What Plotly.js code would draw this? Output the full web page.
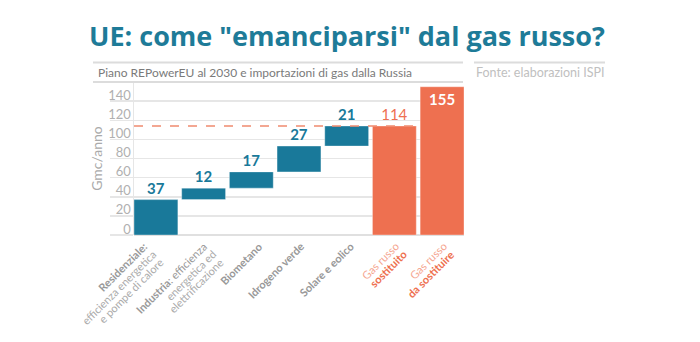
<!DOCTYPE html>
<html>
<head>
<meta charset="utf-8">
<script src="https://cdn.plot.ly/plotly-3.0.1.min.js"></script>
<style>html,body{margin:0;padding:0;background:#fff;}#chart{width:700px;height:342px;}</style>
</head>
<body>
<div id="chart"></div>
<script>
// ---- data ----
var categories = ["Residenziale", "Industria", "Biometano", "Idrogeno verde", "Solare e eolico", "Gas russo sostituito", "Gas russo da sostituire"];
var blueValues = [37, 12, 17, 27, 21];        // contributions REPowerEU (Gmc/anno)
var replacedGas = 114;                          // gas russo sostituito
var toReplaceGas = 155;                         // gas russo da sostituire
var yTicks = [0, 20, 40, 60, 80, 100, 120, 140];
var labelLines = [
  ["<b>Residenziale:</b>", "efficienza energetica", "e pompe di calore"],
  ["<b>Industria</b>: efficienza", "energetica ed", "elettrificazione"],
  ["<b>Biometano</b>"],
  ["<b>Idrogeno verde</b>"],
  ["<b>Solare e eolico</b>"],
  ["Gas russo", "<b>sostituito</b>"],
  ["Gas russo", "<b>da sostituire</b>"]
];

var TEAL = "#19799a", ORANGE = "#ee7050";
var FONT = "Lato, 'Open Sans', sans-serif";

// cumulative bases for the waterfall
var bases = [];
var acc = 0;
blueValues.forEach(function (v) { bases.push(acc); acc += v; });

var traces = [
  {
    type: "bar",
    x: categories.slice(0, 5),
    y: blueValues,
    base: bases,
    marker: { color: TEAL, line: { color: "rgba(255,255,255,0.35)", width: 1 } },
    text: blueValues.map(String),
    textposition: "outside",
    cliponaxis: false,
    textfont: { family: FONT, size: 15, color: TEAL, weight: "bold" },
    hoverinfo: "skip"
  },
  {
    type: "bar",
    x: [categories[5]],
    y: [replacedGas],
    marker: { color: ORANGE, line: { color: "rgba(255,255,255,0.35)", width: 1 } },
    text: [String(replacedGas)],
    textposition: "outside",
    cliponaxis: false,
    textfont: { family: FONT, size: 15, color: ORANGE },
    hoverinfo: "skip"
  },
  {
    type: "bar",
    x: [categories[6]],
    y: [toReplaceGas],
    marker: { color: ORANGE, line: { color: "rgba(255,255,255,0.35)", width: 1 } },
    text: [String(toReplaceGas)],
    textposition: "inside",
    insidetextanchor: "end",
    textfont: { family: FONT, size: 15, color: "#ffffff", weight: "bold" },
    hoverinfo: "skip"
  }
];

var L = 134, R = 464, T = 82, B = 235, W = 700, H = 342;
function px(x) { return (x - L) / (R - L); }
function py(y) { return (B - y) / (B - T); }

var annotations = [
  { xref: "paper", yref: "paper", x: px(96), y: py(72), xanchor: "left", yanchor: "middle", showarrow: false,
    text: "Piano REPowerEU al 2030 e importazioni di gas dalla Russia", font: { family: FONT, size: 12, color: "#7a7a7a" } },
  { xref: "paper", yref: "paper", x: px(474), y: py(72), xanchor: "left", yanchor: "middle", showarrow: false,
    text: "Fonte: elaborazioni ISPI", font: { family: FONT, size: 12.5, color: "#c0c0c0" } }
];

// rotated category labels, one annotation per line (tight line spacing)
var endShiftX = [-10, 2, 9, 3, 5, 3, 3];   // horizontal nudge of first-line end (px)
var LINE_STEP = 7.8, ROT_PAD = 5.7, DROP = 9;
labelLines.forEach(function (lines, i) {
  lines.forEach(function (t, k) {
    var orange = i >= 5;
    var bold = t.indexOf("<b>") === 0;
    var color = orange ? (bold ? ORANGE : "#f5a58f") : (bold ? "#999999" : "#ababab");
    annotations.push({
      xref: "x", yref: "paper", x: categories[i], y: 0,
      xanchor: "right", yanchor: "top", showarrow: false,
      textangle: -45,
      text: t,
      font: { family: FONT, size: 11, color: color },
      borderpad: 0,
      xshift: endShiftX[i] + k * LINE_STEP + ROT_PAD,
      yshift: -(DROP + k * LINE_STEP - ROT_PAD)
    });
  });
});

var layout = {
  width: W, height: H,
  margin: { l: L, r: W - R, t: T, b: H - B },
  paper_bgcolor: "#ffffff",
  plot_bgcolor: "#ffffff",
  showlegend: false,
  barmode: "overlay",
  bargap: 0.08,
  font: { family: FONT, color: "#999" },
  title: {
    text: "UE: come \"emanciparsi\" dal gas russo?",
    font: { family: "'Open Sans', sans-serif", size: 27, color: "#1e7b98", weight: "bold" },
    xref: "container", yref: "container",
    x: 89 / W, xanchor: "left",
    y: 1 - 37 / H, yanchor: "middle"
  },
  xaxis: {
    type: "category",
    categoryorder: "array",
    categoryarray: categories,
    range: [-0.46, categories.length - 0.54],
    showgrid: false,
    zeroline: false,
    showline: false,
    ticks: "",
    showticklabels: false
  },
  yaxis: {
    range: [0, 160],
    tickvals: yTicks,
    ticktext: yTicks.map(String),
    showgrid: true,
    gridcolor: "#e6e6e6",
    gridwidth: 1.5,
    zeroline: true,
    zerolinecolor: "#e0e0e0",
    zerolinewidth: 1.5,
    showline: true,
    linecolor: "#e6e6e6",
    linewidth: 1.5,
    ticks: "outside",
    ticklen: 23,
    tickcolor: "#e6e6e6",
    tickwidth: 1.5,
    ticklabelstandoff: -24,
    ticklabelshift: -6,
    tickfont: { family: FONT, size: 13, color: "#b0b0b0" },
    title: { text: "Gmc/anno", font: { family: FONT, size: 14, color: "#aaaaaa" }, standoff: 2 }
  },
  shapes: [
    // subtitle box lines
    { type: "line", xref: "paper", yref: "paper", x0: px(93), x1: px(463), y0: py(62.5), y1: py(62.5), line: { color: "#dcdcdc", width: 2 } },
    { type: "line", xref: "paper", yref: "paper", x0: px(93), x1: px(463), y0: py(82), y1: py(82), line: { color: "#dcdcdc", width: 2 } },
    { type: "line", xref: "paper", yref: "paper", x0: px(474), x1: px(605), y0: py(62.5), y1: py(62.5), line: { color: "#dcdcdc", width: 2 } },
    // dashed line at replaced-gas level
    { type: "line", xref: "x", yref: "y", layer: "above", x0: -0.46, x1: categories.length - 1.54, y0: replacedGas, y1: replacedGas, line: { color: "#f08a6f", width: 1.5, dash: "dash" } }
  ],
  annotations: annotations
};

Plotly.newPlot("chart", traces, layout, { displayModeBar: false, staticPlot: true });
</script>
</body>
</html>
